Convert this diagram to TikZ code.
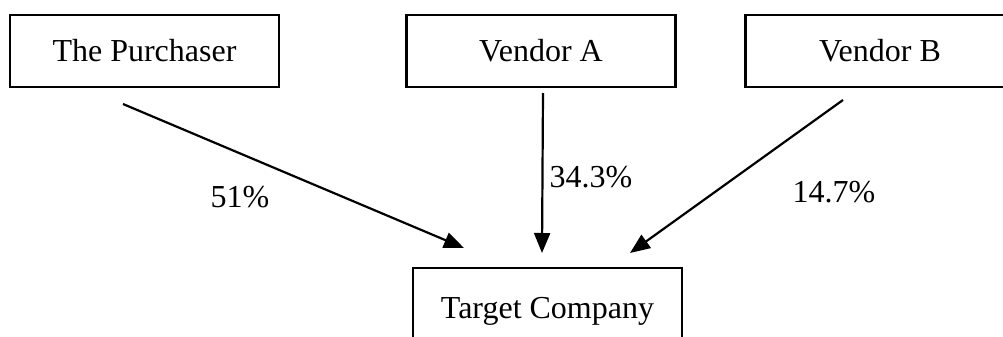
\documentclass[tikz,border=0pt]{standalone}
\usepackage{fontspec}
\setmainfont{Liberation Serif}
\usetikzlibrary{arrows.meta}
\begin{document}
\begin{tikzpicture}[x=0.5pt,y=-0.5pt,line width=1.1pt,
	box/.style={rectangle, draw, minimum width=134.5pt, minimum height=36pt, inner sep=0pt, font=\fontsize{16}{19}\selectfont},
	link/.style={-{Triangle[length=10pt,width=8pt]}},
	pct/.style={font=\fontsize{16}{19}\selectfont}]
	\clip (0,0) rectangle (1003,337);
	\node (P) at (144.5, 51)	[box]	{The Purchaser};
	\node (A) at (541, 51)	[box]	{Vendor A};
	\node (B) at (880, 51)	[box]	{Vendor B};
	\node (T) at (547.5, 311)	[box, minimum height=43pt]	{Target Company};
	\coordinate (P1) at (123, 104);
	\coordinate (P2) at (464, 248);
	\coordinate (A1) at (543, 93);
	\coordinate (A2) at (542, 253);
	\coordinate (B1) at (843, 100);
	\coordinate (B2) at (630, 253);
	\draw[link] (P1) -- (P2);
	\draw[link] (A1) -- (A2);
	\draw[link] (B1) -- (B2);
	\node (LP) at (240, 197)	[pct]	{51\%};
	\node (LA) at (591, 177)	[pct]	{34.3\%};
	\node (LB) at (834, 192)	[pct]	{14.7\%};
\end{tikzpicture}
\end{document}
